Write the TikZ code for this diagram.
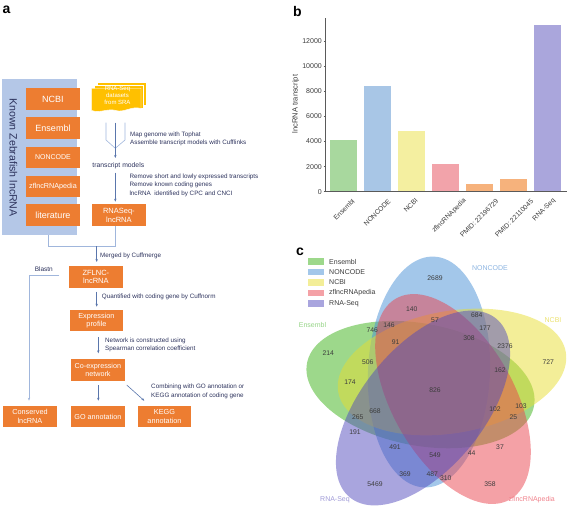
\documentclass[tikz,border=0pt]{standalone}
\usepackage{fontspec}
\setmainfont{Liberation Sans}
\usetikzlibrary{arrows.meta}
\definecolor{orangeC}{RGB}{237,125,49}
\definecolor{panelblue}{RGB}{180,199,231}
\definecolor{dataY}{RGB}{255,192,0}
\definecolor{navy}{RGB}{44,50,92}
\definecolor{lineblue}{RGB}{90,118,172}
\definecolor{brk}{RGB}{160,182,220}
\definecolor{axgray}{RGB}{90,90,90}
\definecolor{txgray}{RGB}{60,60,60}
\definecolor{barEns}{RGB}{168,216,158}
\definecolor{barNon}{RGB}{168,198,230}
\definecolor{barNcbi}{RGB}{244,239,160}
\definecolor{barZf}{RGB}{242,163,170}
\definecolor{barPm}{RGB}{246,178,124}
\definecolor{barRna}{RGB}{170,166,220}
\definecolor{vGreen}{RGB}{59,177,23}
\definecolor{vBlue}{RGB}{71,143,213}
\definecolor{vYellow}{RGB}{231,221,49}
\definecolor{vPink}{RGB}{233,67,77}
\definecolor{vPurple}{RGB}{83,75,189}
\definecolor{lGreen}{RGB}{150,212,135}
\definecolor{lBlue}{RGB}{140,180,225}
\definecolor{lYellow}{RGB}{235,225,110}
\definecolor{lPink}{RGB}{240,130,140}
\definecolor{lPurple}{RGB}{160,155,215}
\newcommand{\fsz}[1]{\fontsize{#1}{#1}\selectfont}
\begin{document}
\begin{tikzpicture}[x=1pt,y=-1pt,
  obox/.style={fill=orangeC,text=white,minimum width=53.7pt,minimum height=21.7pt,inner sep=0pt,align=center},
  ann/.style={text=navy,anchor=west,inner sep=0pt,align=left,font=\fontsize{6.3}{8.3}\selectfont},
  arr/.style={draw=lineblue,line width=0.6pt,-{Stealth[length=3pt,width=2.4pt]}},
  ln/.style={draw=brk,line width=0.6pt},
  lnarr/.style={draw=brk,line width=0.6pt,-{Stealth[length=3pt,width=2.4pt]}},
  plabel/.style={font=\bfseries\fsz{14},inner sep=0pt},
  tick/.style={text=txgray,font=\fsz{7},anchor=east,inner sep=0pt},
  blab/.style={text=txgray,font=\fsz{6.8},anchor=center,rotate=45,inner sep=0pt},
  vnum/.style={text=txgray,font=\fsz{6.8},inner sep=0pt},
  leg/.style={text=txgray,font=\fsz{7},anchor=west,inner sep=0pt},
  vset/.style={fill opacity=0.5}]
\useasboundingbox (0,0) rectangle (567,508);

% ================= panel a =================
\node[plabel] (la) at (6.5,10) {a};
\fill[panelblue] (1.7,79) rectangle (76.7,235);
\node[rotate=-90,text=navy,font=\fsz{10.6},inner sep=0pt] (known) at (13.3,157.5) {Known Zebrafish lncRNA};
\node[obox,font=\fsz{9}] (ncbi) at (53,99.2) {NCBI};
\node[obox,font=\fsz{9}] (ens) at (53,128.3) {Ensembl};
\node[obox,font=\fsz{7}] (nonc) at (53,157.5) {NONCODE};
\node[obox,font=\fsz{7.2}] (zfl) at (53,186.5) {zflncRNApedia};
\node[obox,font=\fsz{9}] (lit) at (53,215.2) {literature};

% stacked datasets
\filldraw[fill=dataY,draw=white,line width=0.4pt] (97.5,82.3) rectangle (145.7,105);
\filldraw[fill=dataY,draw=white,line width=0.4pt] (94.5,85.3) rectangle (143.5,108);
\filldraw[fill=dataY,draw=white,line width=0.4pt] (91.7,88.3) -- (141,88.3) -- (141,108.5)
  .. controls (132,105.5) and (124,113) .. (116,110.5)
  .. controls (108,108) and (100,113.5) .. (91.7,110.5) -- cycle;
\node[text=white,font=\fontsize{6}{7}\selectfont,align=center,inner sep=0pt] (sra) at (117.5,95.5) {RNA-Seq\\datasets\\from SRA};

\coordinate (dL) at (106,122.7);
\coordinate (dM) at (115.3,122.7);
\coordinate (dR) at (125,122.7);
\coordinate (dJ) at (115.3,148.3);
\draw[ln] (dL) -- (106,140) -- (dJ);
\draw[ln] (dR) -- (125,140) -- (dJ);
\draw[arr] (dM) -- (115.3,158);
\node[ann] (map) at (130,138.9) {Map genome with Tophat\\Assemble transcript models with Cufflinks};
\node[text=navy,font=\fsz{6.8},inner sep=0pt] (tm) at (118.3,165.7) {transcript models};
\node[obox,font=\fontsize{7.5}{8.5}\selectfont] (rnaseq) at (118.9,215.2) {RNASeq-\\lncRNA};
\draw[arr] (115.3,172.7) -- (115.3,201.7);
\node[ann] (rem) at (129.3,185.2) {Remove short and lowly expressed transcripts\\Remove known coding genes\\lncRNA\ \ identified by CPC and CNCI};

% bracket and merge
\coordinate (bL) at (48.3,235);
\coordinate (bJ) at (96.7,246);
\draw[ln] (bL) -- (48.3,246) -- (115,246) -- (115,226);
\node[obox,font=\fontsize{7.5}{8.5}\selectfont] (zflnc) at (95.9,276.9) {ZFLNC-\\lncRNA};
\draw[arr] (bJ) -- (96.7,262);
\node[ann] (merge) at (100,256) {Merged by Cuffmerge};

\node[text=navy,font=\fsz{6.5},inner sep=0pt] (blastn) at (43.8,269) {Blastn};
\coordinate (bs) at (59.3,275.7);
\node[obox,font=\fontsize{7.3}{8.5}\selectfont] (cons) at (30,416.5) {Conserved\\lncRNA};
\draw[lnarr] (bs) -- (29,275.7) -- (29,400.7);

\node[obox,font=\fontsize{7.3}{8.5}\selectfont] (expr) at (96.4,320.5) {Expression\\profile};
\draw[arr] (96.7,291.7) -- (96.7,306.7);
\node[ann] (quant) at (101.7,297.3) {Quantified with coding gene by Cuffnorm};

\node[obox,font=\fontsize{7.2}{8.5}\selectfont] (coex) at (97.9,369.9) {Co-expression\\network};
\draw[arr] (98.3,337.3) -- (98.3,353.3);
\node[ann] (net) at (105,345) {Network is constructed using\\Spearman correlation coefficient};

\node[obox,font=\fsz{7.2}] (go) at (97.9,416.5) {GO annotation};
\node[obox,font=\fontsize{7.3}{8.5}\selectfont] (kegg) at (164.5,416.5) {KEGG\\annotation};
\draw[arr] (98.3,385) -- (98.3,400.7);
\draw[arr] (126.7,385) -- (144.3,400.7);
\node[ann,font=\fontsize{6.3}{9}\selectfont] (comb) at (151,391.2) {Combining with GO annotation or\\KEGG annotation of coding gene};

% ================= panel b =================
\node[plabel] (lb) at (297.5,11) {b};
\fill[barEns] (330,140) rectangle (357,191.7);
\fill[barNon] (364,86) rectangle (391,191.7);
\fill[barNcbi] (398,131) rectangle (425,191.7);
\fill[barZf] (432,164) rectangle (459,191.7);
\fill[barPm] (466,183.7) rectangle (493,191.7);
\fill[barPm] (500,178.7) rectangle (527,191.7);
\fill[barRna] (534,25) rectangle (561,191.7);
\draw[axgray,line width=0.6pt] (325.7,18.3) -- (325.7,191.7) -- (567,191.7);
\foreach \v/\yy in {0/191.7,2000/166.6,4000/141.5,6000/116.4,8000/91.3,10000/66.2,12000/41.1}{
  \draw[axgray,line width=0.5pt] (323.5,\yy) -- (325.7,\yy);
  \node[tick] (t\v) at (322,\yy) {\v};
}
\node[rotate=90,text=txgray,font=\fsz{7.5},inner sep=0pt] (ylab) at (295.7,104) {lncRNA transcript};
\node[blab] (b1) at (344,209.7) {Ensembl};
\node[blab] (b2) at (377.2,212.5) {NONCODE};
\node[blab] (b3) at (410.8,205.3) {NCBI};
\node[blab] (b4) at (449.2,215.8) {zflncRNApedia};
\node[blab] (b5) at (479.2,218.3) {PMID: 22196729};
\node[blab] (b6) at (514.2,218.3) {PMID: 22110045};
\node[blab] (b7) at (544.2,209.7) {RNA-Seq};

% ================= panel c =================
\node[plabel] (lc) at (300,252) {c};
\begin{scope}[shift={(436,392)},y=1pt]
  \fill[vGreen,vset,shift={(-15.5,7.4)},rotate=169.3] (0,0) ellipse (115.5pt and 61pt);
  \fill[vBlue,vset,shift={(-7,20)},rotate=87.5] (0,0) ellipse (115.5pt and 61pt);
  \fill[vYellow,vset,shift={(16,20)},rotate=10] (0,0) ellipse (115.5pt and 61pt);
  \fill[vPink,vset,shift={(17,-7)},rotate=-60.5] (0,0) ellipse (115.5pt and 61pt);
  \fill[vPurple,vset,shift={(-13,-16)},rotate=-129.3] (0,0) ellipse (115.5pt and 61pt);
\end{scope}
% legend
\foreach \c/\t/\yy [count=\i] in {vGreen/Ensembl/261.7,vBlue/NONCODE/272.1,vYellow/NCBI/282.5,vPink/zflncRNApedia/292.9,vPurple/RNA-Seq/303.3}{
  \fill[\c,vset] (308,\yy-3.3) rectangle (324,\yy+3.3);
  \node[leg] (lg\i) at (329,\yy) {\t};
}
% set labels
\node[text=lGreen,font=\fsz{7},inner sep=0pt] (sEns) at (312.5,325) {Ensembl};
\node[text=lBlue,font=\fsz{7},inner sep=0pt] (sNon) at (490,268.3) {NONCODE};
\node[text=lYellow,font=\fsz{7},inner sep=0pt] (sNcbi) at (553,320) {NCBI};
\node[text=lPink,font=\fsz{7},inner sep=0pt] (sZf) at (531.7,500) {zflncRNApedia};
\node[text=lPurple,font=\fsz{7},inner sep=0pt] (sRna) at (335,500) {RNA-Seq};
% numbers
\foreach \n/\xx/\yy [count=\i] in {2689/435/278.3,140/411.7/309,57/435/320,684/476.7/315,746/372.3/330,146/389/325,177/485/328.3,91/395.7/341.7,308/469/338.3,2376/505/345.7,214/328.3/353.3,506/367.7/362.3,727/548.3/362.3,162/500/370,174/350/382.3,826/435/390,102/495/409,103/521/405.7,668/375/410.7,265/357.7/416.7,25/513.3/416.7,191/355/431.7,491/395/447.3,37/500/446.7,549/435/455,44/471.7/453.3,369/405/474,487/432.3/474,310/445.7/478.3,358/490/484,5469/375/484}{
  \node[vnum] (vn\i) at (\xx,\yy) {\n};
}
\end{tikzpicture}
\end{document}
